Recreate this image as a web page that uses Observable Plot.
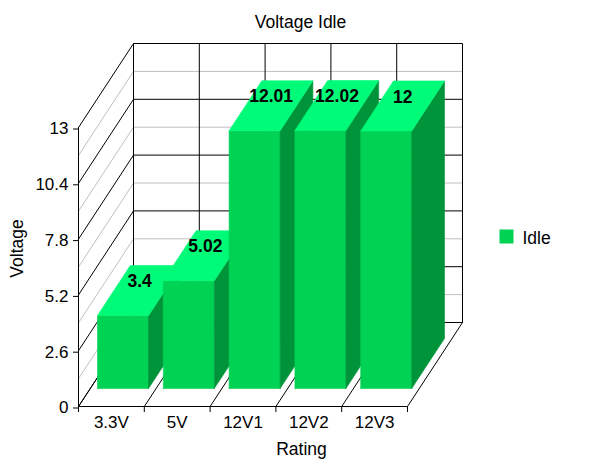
<!DOCTYPE html>
<html>
<head>
<meta charset="utf-8">
<script src="https://cdn.jsdelivr.net/npm/d3@7"></script>
<script src="https://cdn.jsdelivr.net/npm/@observablehq/plot@0.6"></script>
<style>
  html, body { margin: 0; padding: 0; background: #fff; }
  #chart svg { display: block; }
</style>
</head>
<body>
<div id="chart"></div>
<script>
// ---- data ----
const categories = ["3.3V", "5V", "12V1", "12V2", "12V3"];
const idle = [3.4, 5.02, 12.01, 12.02, 12];
const valueLabels = ["3.4", "5.02", "12.01", "12.02", "12"];
const yTicks = [0, 2.6, 5.2, 7.8, 10.4, 13];
const yTickLabels = ["0", "2.6", "5.2", "7.8", "10.4", "13"];
const yGrid = [0, 1.3, 2.6, 3.9, 5.2, 6.5, 7.8, 9.1, 10.4, 11.7, 13];
const yMajor = [0, 2.6, 5.2, 7.8, 10.4, 13];
const seriesName = "Idle";

// ---- style / projection ----
const FONT = "'Liberation Sans', Arial, Helvetica, sans-serif";
const frontColor = "#00d254";
const topColor = "#00fb78";
const sideColor = "#00943a";
const DX = 0.836;   // depth offset in category units
const DY = 3.914;   // depth offset in value units
const barA = 0.11, barB = 0.885, d0 = 0.214, d1 = 0.81;
const nCat = categories.length;
const yMax = yTicks[yTicks.length - 1];

const P = (x, y, d) => ({X: x + d * DX, Y: y + d * DY});

// grid segments
const grid = [];
for (const v of yGrid) {
  const col = yMajor.includes(v) ? "#000" : "#c0c0c0";
  const a = P(0, v, 1), b = P(nCat, v, 1), c = P(0, v, 0);
  grid.push({x1: a.X, y1: a.Y, x2: b.X, y2: b.Y, s: col});   // back wall
  grid.push({x1: c.X, y1: c.Y, x2: a.X, y2: a.Y, s: col});   // left wall
}
for (let c = 0; c <= nCat; c++) {
  const a = P(c, 0, 1), b = P(c, yMax, 1), f = P(c, 0, 0);
  grid.push({x1: a.X, y1: a.Y, x2: b.X, y2: b.Y, s: "#000"}); // back verticals
  grid.push({x1: f.X, y1: f.Y, x2: a.X, y2: a.Y, s: "#000"}); // floor diagonals
}

// bar faces
const faces = [];
idle.forEach((v, i) => {
  const xa = i + barA, xb = i + barB;
  const polys = [
    ["front", frontColor, [P(xa,0,d0), P(xb,0,d0), P(xb,v,d0), P(xa,v,d0)]],
    ["side", sideColor, [P(xb,0,d0), P(xb,0,d1), P(xb,v,d1), P(xb,v,d0)]],
    ["top", topColor, [P(xa,v,d0), P(xb,v,d0), P(xb,v,d1), P(xa,v,d1)]]
  ];
  polys.forEach(([name, col, pts]) => {
    const id = `${i}-${name}`;
    [...pts, pts[0]].forEach(p => faces.push({id, X: p.X, Y: p.Y, c: col}));
  });
});

const labelRows = idle.map((v, i) => ({...P(i + 0.5, v, (d0 + d1) / 2), t: valueLabels[i]}));

const chart = Plot.plot({
  width: 600,
  height: 463,
  marginLeft: 78,
  marginRight: 193,
  marginTop: 127,
  marginBottom: 57,
  x: {domain: [0, nCat]},
  y: {domain: [0, yMax]},
  color: {type: "identity"},
  style: {fontFamily: FONT, fontSize: "17px", background: "#fff", color: "#000", overflow: "visible"},
  marks: [
    Plot.link(grid, {x1: "x1", y1: "y1", x2: "x2", y2: "y2", stroke: "s", strokeWidth: 1}),
    Plot.line(faces, {x: "X", y: "Y", z: "id", fill: "c", stroke: "c", strokeWidth: 0.6}),
    Plot.ruleX([0], {y1: 0, y2: yMax, stroke: "#000"}),
    Plot.ruleY([0], {x1: 0, x2: nCat, stroke: "#000"}),
    Plot.axisY({ticks: yTicks, tickFormat: d => yTickLabels[yTicks.indexOf(d)], tickSize: 5, tickPadding: 5,
      fontSize: 17, label: null, dy: 1.5}),
    Plot.axisX({ticks: d3.range(nCat + 1), tickFormat: () => "", tickSize: 6, label: null}),
    Plot.text(categories, {x: (d, i) => i + 0.5, y: () => 0, text: d => d, dy: 15.6, fontSize: 17}),
    Plot.text(labelRows, {x: "X", y: "Y", text: "t", dy: -9, fontSize: 17.5, fontWeight: "bold"}),
    Plot.text(["Voltage Idle"], {frameAnchor: "top", lineAnchor: "middle", textAnchor: "middle", dx: 57.5, dy: -105.6, fontSize: 17.5}),
    Plot.text(["Rating"], {frameAnchor: "bottom", lineAnchor: "middle", textAnchor: "middle", dx: 58.5, dy: 43, fontSize: 17.5}),
    Plot.text(["Voltage"], {frameAnchor: "left", lineAnchor: "middle", textAnchor: "middle", dx: -61.4, dy: -18.5, rotate: -90, fontSize: 17.5}),
    Plot.dot([seriesName], {frameAnchor: "top-right", dx: 99, dy: 109, symbol: "square", r: 7.9, fill: frontColor, stroke: "none"}),
    Plot.text([seriesName], {frameAnchor: "top-right", lineAnchor: "middle", dx: 115, dy: 110.6, textAnchor: "start", fontSize: 17.5})
  ]
});
document.getElementById("chart").appendChild(chart);
</script>
</body>
</html>
